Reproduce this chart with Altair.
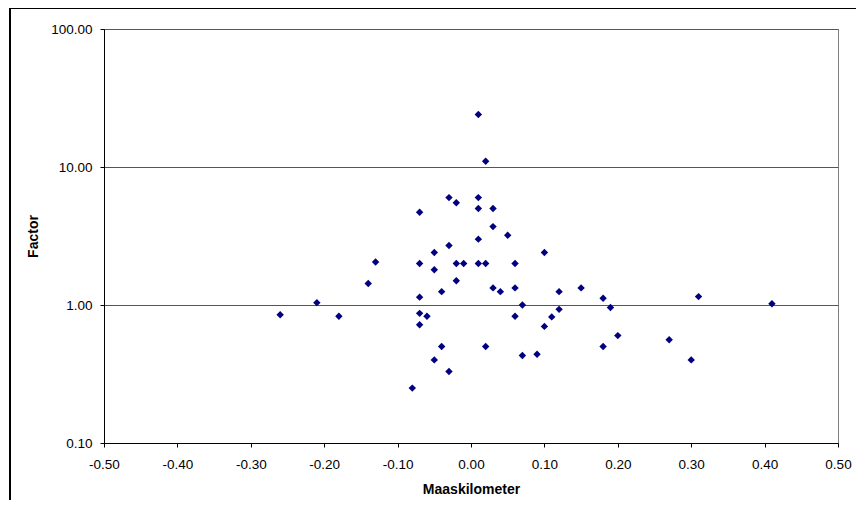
import altair as alt
import pandas as pd

# Maaskilometer (x) and Factor (y)
maaskilometer = [
    0.01, 0.02, -0.03, -0.02, 0.01, 0.01, 0.03, -0.07, 0.03, 0.05,
    0.01, -0.03, -0.05, 0.10, -0.07, -0.02, -0.01, 0.01, 0.02, 0.06,
    -0.05, -0.02, 0.03, 0.06, -0.04, 0.04, 0.12, 0.15, -0.07, 0.07,
    -0.07, -0.06, 0.06, 0.12, 0.11, -0.07, 0.10, -0.04, 0.02, -0.05,
    0.07, 0.09, -0.03, -0.08, -0.13, -0.14, -0.21, -0.26, -0.18, 0.18,
    0.19, 0.20, 0.18, 0.27, 0.31, 0.30, 0.41,
]
factor = [
    24.0, 11.0, 6.0, 5.5, 6.0, 5.0, 5.0, 4.7, 3.7, 3.2,
    3.0, 2.7, 2.4, 2.4, 2.0, 2.0, 2.0, 2.0, 2.0, 2.0,
    1.8, 1.5, 1.33, 1.33, 1.25, 1.25, 1.25, 1.33, 1.14, 1.0,
    0.87, 0.83, 0.83, 0.93, 0.82, 0.72, 0.70, 0.50, 0.50, 0.40,
    0.43, 0.44, 0.33, 0.25, 2.05, 1.43, 1.04, 0.85, 0.83, 1.12,
    0.96, 0.60, 0.50, 0.56, 1.15, 0.40, 1.02,
]
x_ticks = [-0.5, -0.4, -0.3, -0.2, -0.1, 0.0, 0.1, 0.2, 0.3, 0.4, 0.5]
y_ticks = [0.1, 1, 10, 100]

df = pd.DataFrame({"Maaskilometer": maaskilometer, "Factor": factor})

FONT = "Liberation Sans"

points = alt.Chart(df).mark_point(
    shape="diamond", filled=True, color="#000080", size=55, opacity=1
).encode(
    x=alt.X(
        "Maaskilometer:Q",
        scale=alt.Scale(domain=[-0.5, 0.5], nice=False, zero=False),
        axis=alt.Axis(
            values=x_ticks,
            labelExpr="(datum.value < -0.0001 ? '-' : '') + format(abs(datum.value), '.2f')",
            title="Maaskilometer",
            grid=False,
            tickSize=4,
            labelPadding=10,
            titlePadding=12,
            labelFlush=False,
            labelOverlap=False,
        ),
    ),
    y=alt.Y(
        "Factor:Q",
        scale=alt.Scale(type="log", domain=[0.1, 100], nice=False),
        axis=alt.Axis(
            values=y_ticks,
            format=".2f",
            title="Factor",
            grid=True,
            tickSize=4,
            labelPadding=8,
            titlePadding=10,
            labelFlush=False,
            labelOverlap=False,
        ),
    ),
)

frame_left = alt.Chart(df).mark_rule(color="black", strokeWidth=1.5).encode(
    x=alt.value(-94), y=alt.value(-21), y2=alt.value(480)
)
frame_top = alt.Chart(df).mark_rule(color="black", strokeWidth=1.5).encode(
    x=alt.value(-94), x2=alt.value(770), y=alt.value(-21)
)

chart = (
    alt.layer(points, frame_left, frame_top)
    .properties(
        width=734,
        height=414,
        autosize=alt.AutoSizeParams(type="none"),
        padding={"left": 96, "top": 21, "right": 18, "bottom": 57},
        background="white",
    )
    .configure_view(stroke="#808080", strokeWidth=1)
    .configure_axis(
        labelFont=FONT,
        titleFont=FONT,
        labelFontSize=13.5,
        titleFontSize=14,
        titleFontWeight="bold",
        labelColor="black",
        titleColor="black",
        domainColor="black",
        tickColor="black",
        gridColor="#555555",
        gridOpacity=1,
        domainWidth=1,
        tickWidth=1,
        gridWidth=1,
    )
)

chart.save("out.html", embed_options={"renderer": "svg", "actions": False})
